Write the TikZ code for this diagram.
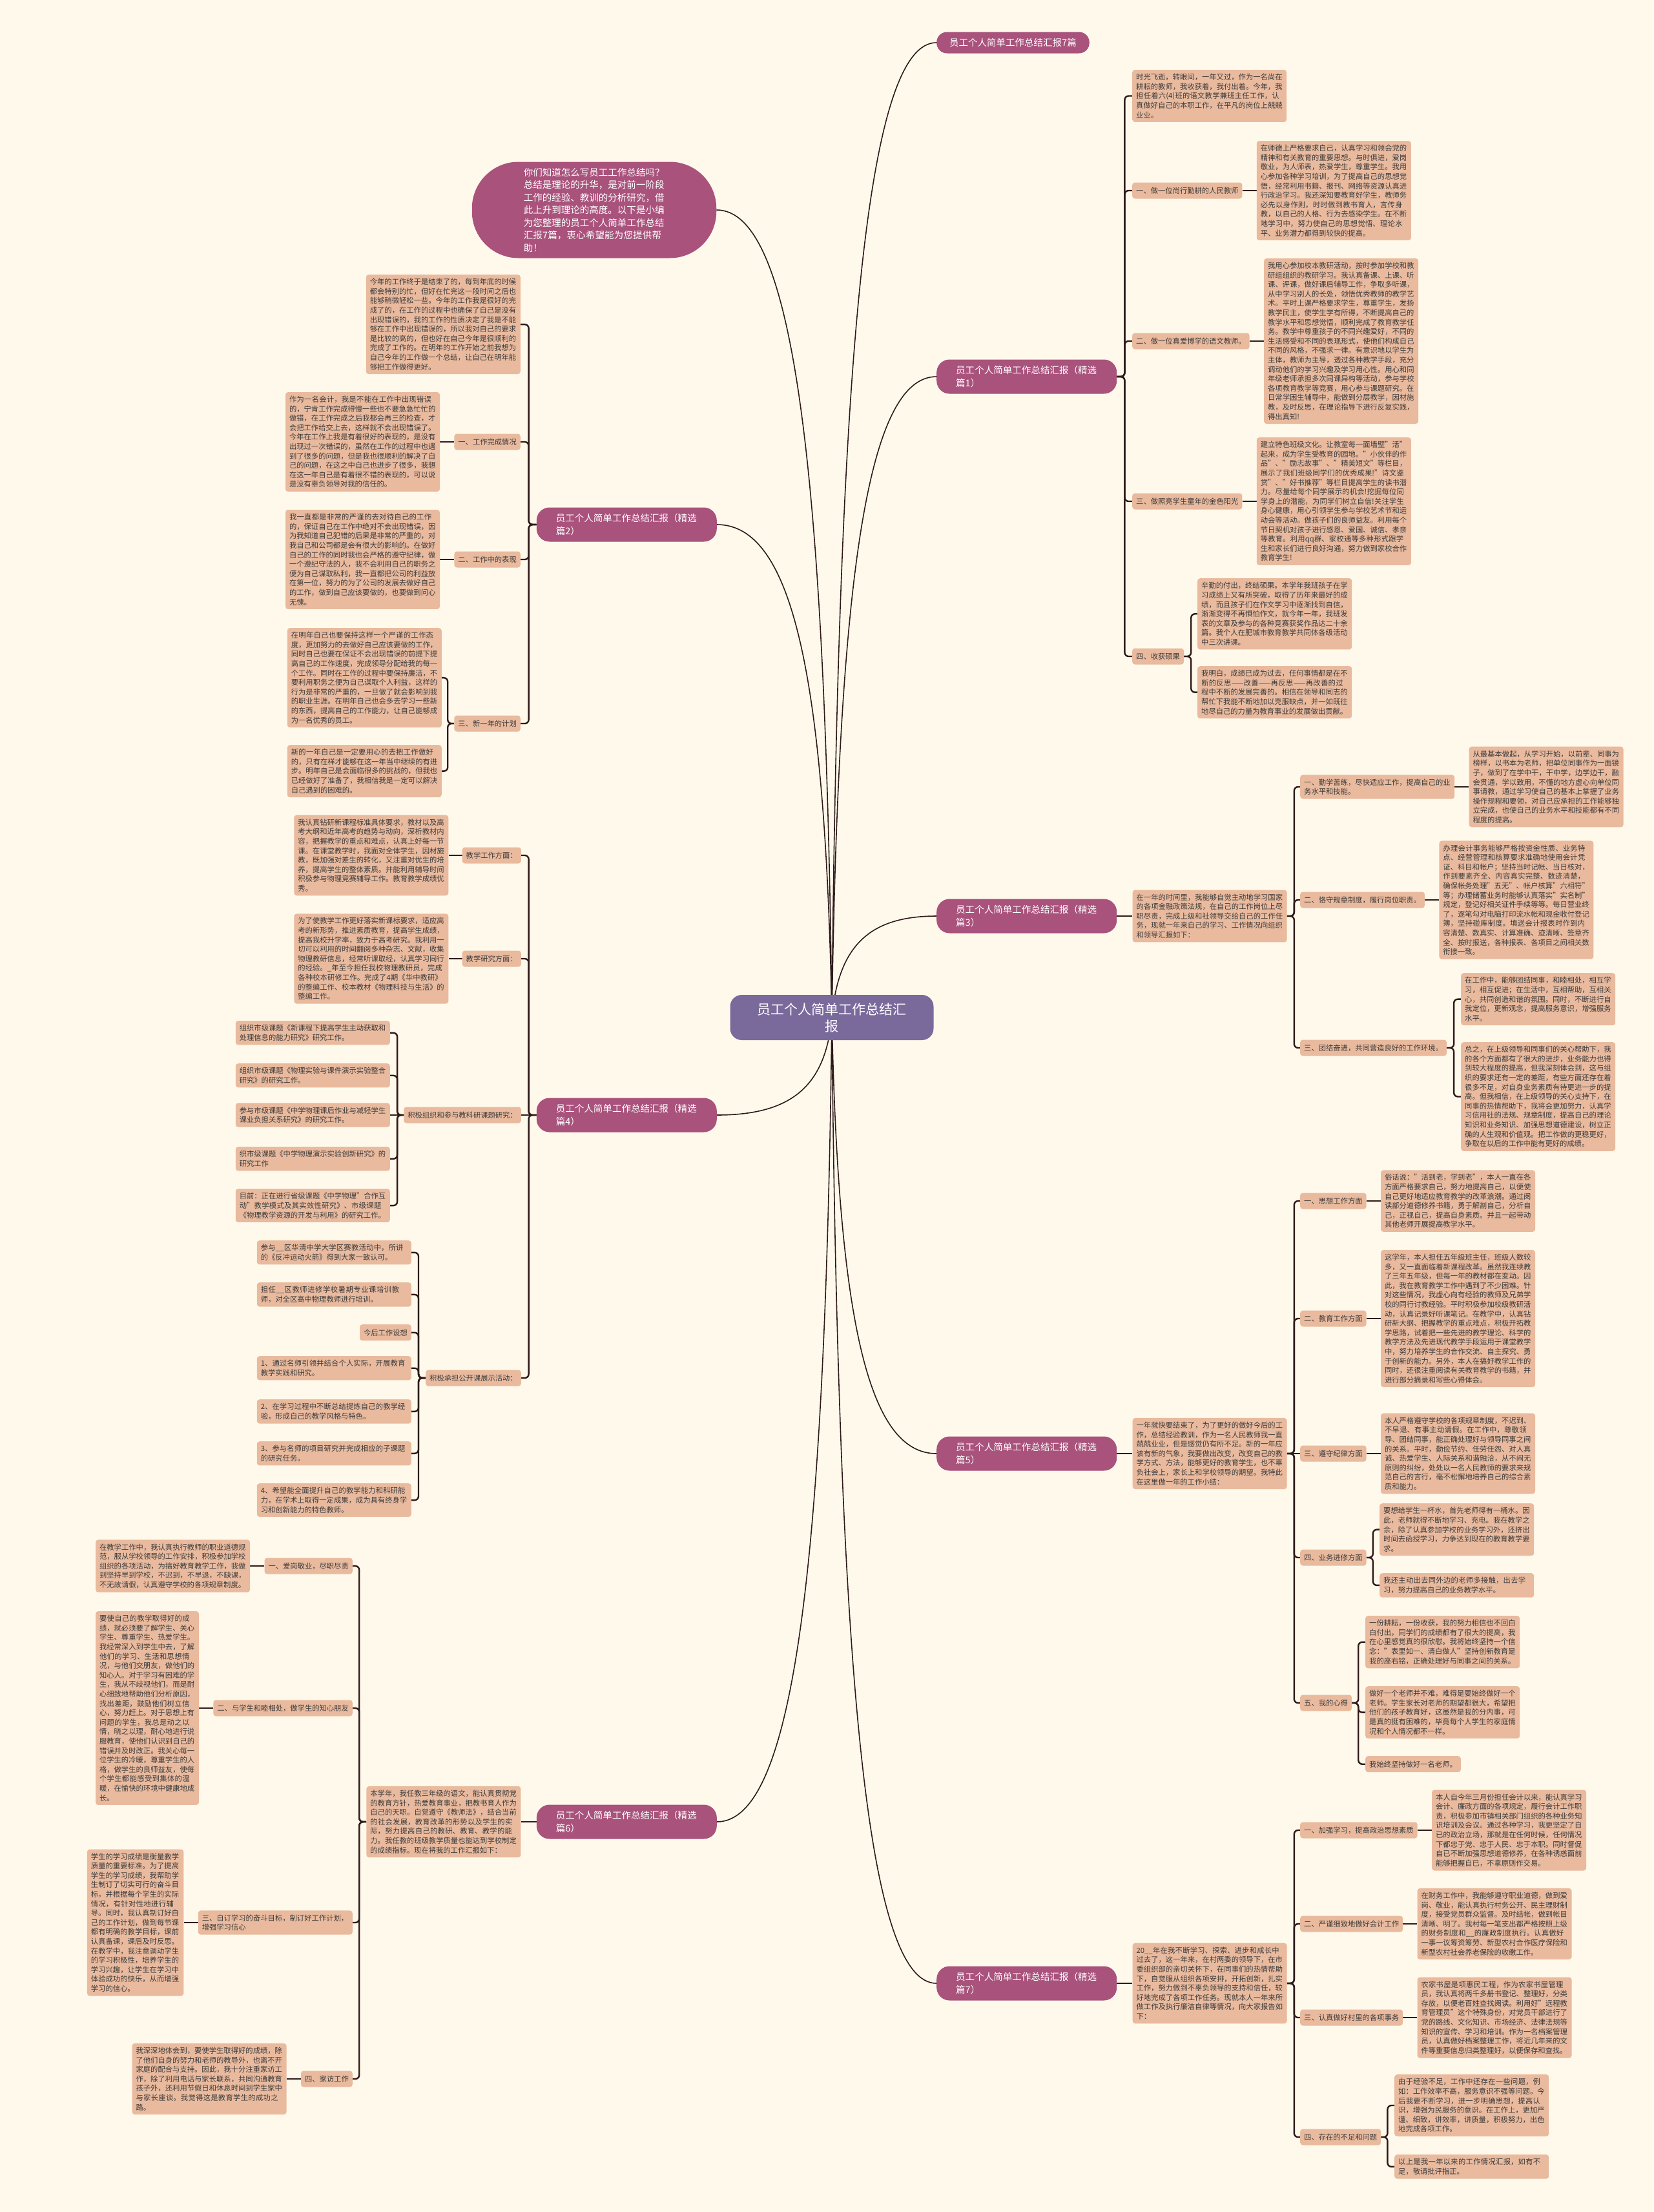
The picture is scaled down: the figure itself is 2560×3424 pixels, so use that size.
\documentclass[tikz,border=0pt]{standalone}
\usepackage{fontspec}
\setmainfont{Noto Sans CJK SC}
\usepackage{xcolor}
\usepackage{tikz}
\usetikzlibrary{positioning}

\XeTeXlinebreaklocale "zh"
\XeTeXlinebreakskip=0pt plus 1pt

\definecolor{paper}{HTML}{FFF9EB}
\definecolor{leaffill}{HTML}{E9BA9E}
\definecolor{leafink}{HTML}{3B3B3B}
\definecolor{topicfill}{HTML}{A9527C}
\definecolor{rootfill}{HTML}{7A6A9C}
\definecolor{wire}{HTML}{2E1A1A}

\newcommand{\leaffont}{\fontsize{11.3}{14.6}\selectfont}
\newcommand{\topicfont}{\fontsize{14.5}{19.5}\selectfont}
\newcommand{\rootfont}{\fontsize{21}{26}\selectfont}

\pgfdeclarelayer{background}
\pgfsetlayers{background,main}

\begin{document}
\begin{tikzpicture}[x=1pt, y=-1pt,
    central/.style={rectangle, rounded corners=18pt, fill=rootfill, text=white, font=\rootfont, align=center, text width=233pt, inner xsep=41pt, minimum height=70pt},
    bubble/.style={rectangle, rounded corners=72pt, fill=topicfill, text=white, font=\topicfont, align=left, text width=218.5pt, inner xsep=80pt, inner ysep=9pt, minimum height=149pt},
    topic/.style={rectangle, rounded corners=20pt, fill=topicfill, text=white, font=\topicfont, align=left, text width=219pt, inner xsep=30pt, minimum height=53pt},
    toptitle/.style={rectangle, rounded corners=16pt, fill=topicfill, text=white, font=\topicfont, inner xsep=20pt, minimum height=33pt},
    subtopic/.style={rectangle, rounded corners=4pt, fill=leaffill, text=leafink, font=\leaffont, inner xsep=6pt, inner ysep=6pt, minimum height=25pt},
    leaf/.style={rectangle, rounded corners=4pt, fill=leaffill, text=leafink, font=\leaffont, align=left, text width=227pt, inner xsep=6pt, inner ysep=6pt},
    link/.style={draw=wire, line width=2.4pt, rounded corners=6pt},
    curve/.style={draw=wire, line width=1.6pt}]

    \useasboundingbox (0,0) rectangle (2560,3424);

    % Centre and main topics
    \node [central] (cn) at (1288,1575) {员工个人简单工作总结汇\\报};
    \node [toptitle, anchor=west] (r0) at (1450,66) {员工个人简单工作总结汇报7篇};
    \node [topic, anchor=west] (r1) at (1450,583) {员工个人简单工作总结汇报（精选篇1）};
    \node [topic, anchor=west] (r3) at (1450,1418) {员工个人简单工作总结汇报（精选篇3）};
    \node [topic, anchor=west] (r5) at (1450,2250) {员工个人简单工作总结汇报（精选篇5）};
    \node [topic, anchor=west] (r7) at (1450,3070) {员工个人简单工作总结汇报（精选篇7）};
    \node [bubble] (intro) at (920,325) {你们知道怎么写员工工作总结吗？总结是理论的升华，是对前一阶段工作的经验、教训的分析研究，借此上升到理论的高度。以下是小编为您整理的员工个人简单工作总结汇报7篇，衷心希望能为您提供帮助！};
    \node [topic, anchor=east] (l2) at (1110,812) {员工个人简单工作总结汇报（精选篇2）};
    \node [topic, anchor=east] (l4) at (1110,1726) {员工个人简单工作总结汇报（精选篇4）};
    \node [topic, anchor=east] (l6) at (1110,2820) {员工个人简单工作总结汇报（精选篇6）};

    % Part 1
    \node [leaf, anchor=north west] (p1lead) at (1753,108) {时光飞逝，转眼间，一年又过，作为一名尚在耕耘的教师，我收获着，我付出着。今年，我担任着六(4)班的语文教学兼班主任工作，认真做好自己的本职工作，在平凡的岗位上兢兢业业。};
    \node [subtopic, anchor=west] (p1a) at (1753,295) {一、做一位尚行勤耕的人民教师};
    \node [leaf, right=22pt of p1a] (p1aleaf) {在师德上严格要求自己，认真学习和领会党的精神和有关教育的重要思想。与时俱进，爱岗敬业，为人师表，热爱学生，尊重学生。我用心参加各种学习培训，为了提高自己的思想觉悟，经常利用书籍、报刊、网络等资源认真进行政治学习。我还深知要教育好学生，教师务必先以身作则，时时做到教书育人，言传身教，以自己的人格、行为去感染学生。在不断地学习中，努力使自己的思想觉悟、理论水平、业务潜力都得到较快的提高。};
    \node [subtopic, anchor=west] (p1b) at (1753,528) {二、做一位真爱博学的语文教师。};
    \node [leaf, right=22pt of p1b] (p1bleaf) {我用心参加校本教研活动，按时参加学校和教研组组织的教研学习。我认真备课、上课、听课、评课，做好课后辅导工作，争取多听课，从中学习别人的长处，领悟优秀教师的教学艺术。平时上课严格要求学生，尊重学生，发扬教学民主，使学生学有所得，不断提高自己的教学水平和思想觉悟，顺利完成了教育教学任务。教学中尊重孩子的不同兴趣爱好，不同的生活感受和不同的表现形式，使他们构成自己不同的风格，不强求一律。有意识地以学生为主体，教师为主导，透过各种教学手段，充分调动他们的学习兴趣及学习用心性。用心和同年级老师承担多次同课异构等活动，参与学校各项教育教学等竞赛，用心参与课题研究。在日常学困生辅导中，能做到分层教学，因材施教，及时反思，在理论指导下进行反复实践，得出真知!};
    \node [subtopic, anchor=west] (p1c) at (1753,776) {三、做照亮学生童年的金色阳光};
    \node [leaf, right=22pt of p1c] (p1cleaf) {建立特色班级文化。让教室每一面墙壁"活"起来，成为学生受教育的园地。"小伙伴的作品"、"励志故事"、"精美短文"等栏目，展示了我们班级同学们的优秀成果!"诗文鉴赏"、"好书推荐"等栏目提高学生的读书潜力。尽量给每个同学展示的机会!挖掘每位同学身上的潜能，为同学们树立自信!关注学生身心健康，用心引领学生参与学校艺术节和运动会等活动。做孩子们的良师益友。利用每个节日契机对孩子进行感恩、爱国、诚信、孝亲等教育。利用qq群、家校通等多种形式跟学生和家长们进行良好沟通，努力做到家校合作教育学生!};
    \node [subtopic, anchor=west] (p1d) at (1753,1016) {四、收获硕果};
    \node [leaf, anchor=north west] (p1d1) at (1854,895) {辛勤的付出，终结硕果。本学年我班孩子在学习成绩上又有所突破，取得了历年来最好的成绩，而且孩子们在作文学习中逐渐找到自信，渐渐变得不再惧怕作文，就今年一年，我班发表的文章及参与的各种竞赛获奖作品达二十余篇。我个人在肥城市教育教学共同体各级活动中三次讲课。};
    \node [leaf, anchor=north west] (p1d2) at (1854,1031) {我明白，成绩已成为过去，任何事情都是在不断的反思——改善——再反思——再改善的过程中不断的发展完善的。相信在领导和同志的帮忙下我能不断地加以克服缺点，并一如既往地尽自己的力量为教育事业的发展做出贡献。};

    % Part 3
    \node [leaf, right=24pt of r3] (p3lead) {在一年的时间里，我能够自觉主动地学习国家的各项金融政策法规，在自己的工作岗位上尽职尽责，完成上级和社领导交给自己的工作任务，现就一年来自己的学习、工作情况向组织和领导汇报如下：};
    \node [subtopic, text width=227pt, align=left, anchor=west] (p3a) at (2013,1218) {一、勤学苦练，尽快适应工作，提高自己的业务水平和技能。};
    \node [leaf, right=22pt of p3a] (p3aleaf) {从最基本做起，从学习开始，以前辈、同事为榜样，以书本为老师，把单位同事作为一面镜子，做到了在学中干，干中学，边学边干，融会贯通，学以致用，不懂的地方虚心向单位同事请教，通过学习使自己的基本上掌握了业务操作规程和要领，对自己应承担的工作能够独立完成，也使自己的业务水平和技能都有不同程度的提高。};
    \node [subtopic, anchor=west] (p3b) at (2013,1393) {二、恪守规章制度，履行岗位职责。};
    \node [leaf, right=22pt of p3b] (p3bleaf) {办理会计事务能够严格按资金性质、业务特点、经营管理和核算要求准确地使用会计凭证、科目和帐户；坚持当时记帐、当日核对，作到要素齐全、内容真实完整、数迹清楚，确保帐务处理"五无"、帐户核算"六相符"等；办理储蓄业务时能够认真落实"实名制"规定，登记好相关证件手续等等。每日营业终了，逐笔勾对电脑打印流水帐和现金收付登记簿，坚持碰库制度。填送会计报表时作到内容清楚、数真实、计算准确、迹清晰、签章齐全、按时报送，各种报表、各项目之间相关数衔接一致。};
    \node [subtopic, anchor=west] (p3c) at (2013,1622) {三、团结奋进，共同营造良好的工作环境。};
    \node [leaf, anchor=north west] (p3c1) at (2262,1506) {在工作中，能够团结同事，和睦相处，相互学习，相互促进；在生活中，互相帮助，互相关心，共同创造和谐的氛围。同时，不断进行自我定位，更新观念，提高服务意识，增强服务水平。};
    \node [leaf, anchor=north west] (p3c2) at (2262,1613) {总之，在上级领导和同事们的关心帮助下，我的各个方面都有了很大的进步，业务能力也得到较大程度的提高，但我深刻体会到，这与组织的要求还有一定的差距，有些方面还存在着很多不足，对自身业务素质有待更进一步的提高。但我相信，在上级领导的关心支持下，在同事的热情帮助下，我将会更加努力，认真学习信用社的法规、规章制度，提高自己的理论知识和业务知识、加强思想道德建设，树立正确的人生观和价值观。把工作做的更稳更好，争取在以后的工作中能有更好的成绩。};

    % Part 5
    \node [leaf, right=24pt of r5] (p5lead) {一年就快要结束了，为了更好的做好今后的工作，总结经验教训，作为一名人民教师我一直兢兢业业，但是感觉仍有所不足。新的一年应该有新的气象，我要做出改变，改变自己的教学方式、方法，能够更好的教育学生，也不辜负社会上，家长上和学校领导的期望。我特此在这里做一年的工作小结：};
    \node [subtopic, anchor=west] (p5a) at (2013,1859) {一、思想工作方面};
    \node [leaf, right=22pt of p5a] (p5aleaf) {俗话说："活到老，学到老"，本人一直在各方面严格要求自己，努力地提高自己，以便使自己更好地适应教育教学的改革浪潮。通过阅读部分道德修养书籍，勇于解剖自己，分析自己，正视自己，提高自身素质。并且一起带动其他老师开展提高教学水平。};
    \node [subtopic, anchor=west] (p5b) at (2013,2041) {二、教育工作方面};
    \node [leaf, right=22pt of p5b] (p5bleaf) {这学年，本人担任五年级班主任，班级人数较多，又一直面临着新课程改革。虽然我连续教了三年五年级，但每一年的教材都在变动。因此，我在教育教学工作中遇到了不少困难。针对这些情况，我虚心向有经验的教师及兄弟学校的同行讨教经验。平时积极参加校级教研活动，认真记录好听课笔记。在教学中，认真钻研新大纲、把握教学的重点难点，积极开拓教学思路，试着把一些先进的教学理论、科学的教学方法及先进现代教学手段运用于课堂教学中，努力培养学生的合作交流、自主探究、勇于创新的能力。另外，本人在搞好教学工作的同时，还很注重阅读有关教育教学的书籍，并进行部分摘录和写些心得体会。};
    \node [subtopic, anchor=west] (p5c) at (2013,2250) {三、遵守纪律方面};
    \node [leaf, right=22pt of p5c] (p5cleaf) {本人严格遵守学校的各项规章制度，不迟到、不早退、有事主动请假。在工作中，尊敬领导、团结同事，能正确处理好与领导同事之间的关系。平时，勤俭节约、任劳任怨、对人真诚、热爱学生、人际关系和谐融洽，从不闹无原则的纠纷，处处以一名人民教师的要求来规范自己的言行，毫不松懈地培养自己的综合素质和能力。};
    \node [subtopic, anchor=west] (p5d) at (2013,2411) {四、业务进修方面};
    \node [leaf, anchor=north west] (p5d1) at (2136,2327) {要想给学生一杯水，首先老师得有一桶水。因此，老师就得不断地学习、充电。我在教学之余，除了认真参加学校的业务学习外，还挤出时间去函授学习，力争达到现在的教育教学要求。};
    \node [leaf, anchor=north west] (p5d2) at (2136,2435) {我还主动出去同外边的老师多接触，出去学习，努力提高自己的业务教学水平。};
    \node [subtopic, anchor=west] (p5e) at (2013,2636) {五、我的心得};
    \node [leaf, anchor=north west] (p5e1) at (2114,2501) {一份耕耘，一份收获，我的努力相信也不回白白付出，同学们的成绩都有了很大的提高，我在心里感觉真的很欣慰。我将始终坚持一个信念："表里如一、清白做人"坚持创新教育是我的座右铭，正确处理好与同事之间的关系。};
    \node [leaf, anchor=north west] (p5e2) at (2114,2610) {做好一个老师并不难，难得是要始终做好一个老师。学生家长对老师的期望都很大，希望把他们的孩子教育好，这虽然是我的分内事，可是真的挺有困难的，毕竟每个人学生的家庭情况和个人情况都不一样。};
    \node [subtopic, anchor=north west] (p5e3) at (2114,2718) {我始终坚持做好一名老师。};

    % Part 7
    \node [leaf, right=24pt of r7] (p7lead) {20\_\_年在我不断学习、探索、进步和成长中过去了，这一年来，在村两委的领导下，在市委组织部的亲切关怀下，在同事们的热情帮助下，自觉服从组织各项安排，开拓创新，扎实工作，努力做到不辜负领导的支持和信任，较好地完成了各项工作任务。现就本人一年来所做工作及执行廉洁自律等情况，向大家报告如下：};
    \node [subtopic, anchor=west] (p7a) at (2013,2833) {一、加强学习，提高政治思想素质};
    \node [leaf, right=22pt of p7a] (p7aleaf) {本人自今年三月份担任会计以来，能认真学习会计、廉政方面的各项规定，履行会计工作职责，积极参加市镇相关部门组织的各种业务知识培训及会议。通过各种学习，我更坚定了自已的政治立场，那就是在任何时候，任何情况下都忠于党、忠于人民、忠于本职。同时督促自已不断加强思想道德修养，在各种诱惑面前能够把握自已，不拿原则作交易。};
    \node [subtopic, anchor=west] (p7b) at (2013,2978) {二、严谨细致地做好会计工作};
    \node [leaf, right=22pt of p7b] (p7bleaf) {在财务工作中，我能够遵守职业道德，做到爱岗、敬业，能认真执行村务公开、民主理财制度，接受党员群众监督。及时结帐，做到帐目清晰、明了。我村每一笔支出都严格按照上级的财务制度和\_\_的廉政制度执行。认真做好一事一议筹资筹劳、新型农村合作医疗保险和新型农村社会养老保险的收缴工作。};
    \node [subtopic, anchor=west] (p7c) at (2013,3123) {三、认真做好村里的各项事务};
    \node [leaf, right=22pt of p7c] (p7cleaf) {农家书屋是项惠民工程，作为农家书屋管理员，我认真将两千多册书登记、整理好，分类存放，以便老百姓查找阅读。利用好"远程教育管理员"这个特殊身份，对党员干部进行了党的路线、文化知识、市场经济、法律法规等知识的宣传、学习和培训。作为一名档案管理员，认真做好档案整理工作，将近几年来的文件等重要信息归类整理好，以便保存和查找。};
    \node [subtopic, anchor=west] (p7d) at (2013,3308) {四、存在的不足和问题};
    \node [leaf, anchor=north west] (p7d1) at (2159,3211) {由于经验不足，工作中还存在一些问题，例如：工作效率不高，服务意识不强等问题。今后我要不断学习，进一步明确思想，提高认识，增强为民服务的意识。在工作上，更加严谨、细致，讲效率，讲质量，积极努力，出色地完成各项工作。};
    \node [leaf, anchor=north west] (p7d2) at (2159,3335) {以上是我一年以来的工作情况汇报，如有不足，敬请批评指正。};

    % Part 2
    \node [leaf, anchor=north east] (p2lead) at (806,425) {今年的工作终于是结束了的，每到年底的时候都会特别的忙，但好在忙完这一段时间之后也能够稍微轻松一些。今年的工作我是很好的完成了的，在工作的过程中也确保了自己是没有出现错误的，我的工作的性质决定了我是不能够在工作中出现错误的，所以我对自己的要求是比较的高的，但也好在自己今年是很顺利的完成了工作的。在明年的工作开始之前我想为自己今年的工作做一个总结，让自己在明年能够把工作做得更好。};
    \node [subtopic, anchor=east] (p2a) at (806,684) {一、工作完成情况};
    \node [leaf, left=22pt of p2a] (p2aleaf) {作为一名会计，我是不能在工作中出现错误的，宁肯工作完成得慢一些也不要急急忙忙的做错，在工作完成之后我都会再三的检查，才会把工作给交上去，这样就不会出现错误了。今年在工作上我是有着很好的表现的，是没有出现过一次错误的，虽然在工作的过程中也遇到了很多的问题，但是我也很顺利的解决了自己的问题，在这之中自己也进步了很多，我想在这一年自己是有着很不错的表现的，可以说是没有辜负领导对我的信任的。};
    \node [subtopic, anchor=east] (p2b) at (806,866) {二、工作中的表现};
    \node [leaf, left=22pt of p2b] (p2bleaf) {我一直都是非常的严谨的去对待自己的工作的，保证自己在工作中绝对不会出现错误，因为我知道自己犯错的后果是非常的严重的，对我自己和公司都是会有很大的影响的。在做好自己的工作的同时我也会严格的遵守纪律，做一个遵纪守法的人，我不会利用自己的职务之便为自己谋取私利，我一直都把公司的利益放在第一位，努力的为了公司的发展去做好自己的工作，做到自己应该要做的，也要做到问心无愧。};
    \node [subtopic, anchor=east] (p2c) at (806,1120) {三、新一年的计划};
    \node [leaf, anchor=north east] (p2c1) at (684,972) {在明年自己也要保持这样一个严谨的工作态度，更加努力的去做好自己应该要做的工作，同时自己也要在保证不会出现错误的前提下提高自己的工作速度，完成领导分配给我的每一个工作。同时在工作的过程中要保持廉洁，不要利用职务之便为自己谋取个人利益，这样的行为是非常的严重的，一旦做了就会影响到我的职业生涯。在明年自己也会多去学习一些新的东西，提高自己的工作能力，让自己能够成为一名优秀的员工。};
    \node [leaf, anchor=north east] (p2c2) at (684,1153) {新的一年自己是一定要用心的去把工作做好的，只有在样才能够在这一年当中继续的有进步。明年自己是会面临很多的挑战的，但我也已经做好了准备了，我相信我是一定可以解决自己遇到的困难的。};

    % Part 4
    \node [subtopic, anchor=east] (p4a) at (807,1324) {教学工作方面：};
    \node [leaf, left=21pt of p4a] (p4aleaf) {我认真钻研新课程标准具体要求，教材以及高考大纲和近年高考的趋势与动向，深析教材内容，把握教学的重点和难点，认真上好每一节课。在课堂教学时，我面对全体学生，因材施教，既加强对差生的转化，又注重对优生的培养，提高学生的整体素质。并能利用辅导时间积极参与物理竞赛辅导工作。教育教学成绩优秀。};
    \node [subtopic, anchor=east] (p4b) at (807,1484) {教学研究方面：};
    \node [leaf, left=21pt of p4b] (p4bleaf) {为了使教学工作更好落实新课标要求，适应高考的新形势，推进素质教育，提高学生成绩，提高我校升学率，致力于高考研究。我利用一切可以利用的时间翻阅多种杂志、文献，收集物理教研信息，经常听课取经，认真学习同行的经验。\_年至今担任我校物理教研员，完成各种校本研修工作。完成了4期《华中教研》的整编工作、校本教材《物理科技与生活》的整编工作。};
    \node [subtopic, anchor=east] (p4c) at (807,1726) {积极组织和参与教科研课题研究：};
    \node [leaf, anchor=north east] (p4c1) at (604,1580) {组织市级课题《新课程下提高学生主动获取和处理信息的能力研究》研究工作。};
    \node [leaf, anchor=north east] (p4c2) at (604,1646) {组织市级课题《物理实验与课件演示实验整合研究》的研究工作。};
    \node [leaf, anchor=east] (p4c3) at (604,1726) {参与市级课题《中学物理课后作业与减轻学生课业负担关系研究》的研究工作。};
    \node [leaf, anchor=north east] (p4c4) at (604,1775) {织市级课题《中学物理演示实验创新研究》的研究工作};
    \node [leaf, anchor=north east] (p4c5) at (604,1840) {目前：正在进行省级课题《中学物理"合作互动"教学模式及其实效性研究》、市级课题《物理教学资源的开发与利用》的研究工作。};
    \node [subtopic, anchor=east] (p4d) at (807,2133) {积极承担公开课展示活动：};
    \node [leaf, anchor=north east] (p4d1) at (637,1920) {参与\_\_区华清中学大学区赛教活动中，所讲的《反冲运动火箭》得到大家一致认可。};
    \node [leaf, anchor=north east] (p4d2) at (637,1985) {担任\_\_区教师进修学校暑期专业课培训教师，对全区高中物理教师进行培训。};
    \node [subtopic, anchor=north east] (p4d3) at (637,2050) {今后工作设想};
    \node [leaf, anchor=north east] (p4d4) at (637,2099) {1、通过名师引领并结合个人实际，开展教育教学实践和研究。};
    \node [leaf, anchor=north east] (p4d5) at (637,2166) {2、在学习过程中不断总结提炼自己的教学经验，形成自己的教学风格与特色。};
    \node [leaf, anchor=north east] (p4d6) at (637,2231) {3、参与名师的项目研究并完成相应的子课题的研究任务。};
    \node [leaf, anchor=north east] (p4d7) at (637,2296) {4、希望能全面提升自己的教学能力和科研能力，在学术上取得一定成果，成为具有终身学习和创新能力的特色教师。};

    % Part 6
    \node [leaf, left=24pt of l6] (p6lead) {本学年，我任教三年级的语文，能认真贯彻党的教育方针，热爱教育事业，把教书育人作为自己的天职。自觉遵守《教师法》，结合当前的社会发展，教育改革的形势以及学生的实际，努力提高自己的教研、教育、教学的能力。我任教的班级教学质量也能达到学校制定的成绩指标。现在将我的工作汇报如下：};
    \node [subtopic, anchor=east] (p6a) at (546,2424) {一、爱岗敬业，尽职尽责};
    \node [leaf, left=22pt of p6a] (p6aleaf) {在教学工作中，我认真执行教师的职业道德规范，服从学校领导的工作安排，积极参加学校组织的各项活动，为搞好教育教学工作，我做到坚持早到学校，不迟到，不早退，不缺课，不无故请假，认真遵守学校的各项规章制度。};
    \node [subtopic, anchor=east] (p6b) at (546,2644) {二、与学生和睦相处，做学生的知心朋友};
    \node [leaf, text width=148pt, left=22pt of p6b] (p6bleaf) {要使自己的教学取得好的成绩，就必须要了解学生、关心学生、尊重学生、热爱学生。我经常深入到学生中去，了解他们的学习、生活和思想情况，与他们交朋友，做他们的知心人。对于学习有困难的学生，我从不歧视他们，而是耐心细致地帮助他们分析原因，找出差距，鼓励他们树立信心，努力赶上。对于思想上有问题的学生，我总是动之以情，晓之以理，耐心地进行说服教育，使他们认识到自己的错误并及时改正。我关心每一位学生的冷暖，尊重学生的人格，做学生的良师益友，使每个学生都能感受到集体的温暖，在愉快的环境中健康地成长。};
    \node [subtopic, text width=227pt, align=left, anchor=east] (p6c) at (546,2976) {三、自订学习的奋斗目标，制订好工作计划，增强学习信心};
    \node [leaf, text width=137.5pt, left=22pt of p6c] (p6cleaf) {学生的学习成绩是衡量教学质量的重要标准。为了提高学生的学习成绩，我帮助学生制订了切实可行的奋斗目标，并根据每个学生的实际情况，有针对性地进行辅导。同时，我认真制订好自己的工作计划，做到每节课都有明确的教学目标，课前认真备课，课后及时反思。在教学中，我注意调动学生的学习积极性，培养学生的学习兴趣，让学生在学习中体验成功的快乐，从而增强学习的信心。};
    \node [subtopic, anchor=east] (p6d) at (546,3218) {四、家访工作};
    \node [leaf, left=22pt of p6d] (p6dleaf) {我深深地体会到，要使学生取得好的成绩，除了他们自身的努力和老师的教导外，也离不开家庭的配合与支持。因此，我十分注重家访工作，除了利用电话与家长联系，共同沟通教育孩子外，还利用节假日和休息时间到学生家中与家长座谈。我觉得这是教育学生的成功之路。};

    \begin{pgfonlayer}{background}
    \fill [paper] (0,0) rectangle (2560,3424);

    % Curves from the centre
    \draw [curve] (cn.center) .. controls +(10,-1056) and +(-105,0) .. (r0.west);
    \draw [curve] (cn.center) .. controls +(10,-694) and +(-105,0) .. (r1.west);
    \draw [curve] (cn.center) .. controls +(10,-110) and +(-105,0) .. (r3.west);
    \draw [curve] (cn.center) .. controls +(10,472) and +(-105,0) .. (r5.west);
    \draw [curve] (cn.center) .. controls +(10,1046) and +(-105,0) .. (r7.west);
    \draw [curve] (cn.center) .. controls +(-10,-875) and +(116,0) .. (intro.east);
    \draw [curve] (cn.center) .. controls +(-10,-534) and +(116,0) .. (l2.east);
    \draw [curve] (cn.center) .. controls +(-10,106) and +(116,0) .. (l4.east);
    \draw [curve] (cn.center) .. controls +(-10,871) and +(116,0) .. (l6.east);

    % Links, part 1
    \draw [link] (r1.east) -- ++(12,0) |- (p1lead.west);
    \draw [link] (r1.east) -- ++(12,0) |- (p1a.west);
    \draw [link] (r1.east) -- ++(12,0) |- (p1b.west);
    \draw [link] (r1.east) -- ++(12,0) |- (p1c.west);
    \draw [link] (r1.east) -- ++(12,0) |- (p1d.west);
    \draw [link] (p1a.east) -- (p1aleaf.west);
    \draw [link] (p1b.east) -- (p1bleaf.west);
    \draw [link] (p1c.east) -- (p1cleaf.west);
    \draw [link] (p1d.east) -- ++(11,0) |- (p1d1.west);
    \draw [link] (p1d.east) -- ++(11,0) |- (p1d2.west);

    % Links, part 3
    \draw [link] (r3.east) -- (p3lead.west);
    \draw [link] (p3lead.east) -- ++(11,0) |- (p3a.west);
    \draw [link] (p3lead.east) -- ++(11,0) |- (p3b.west);
    \draw [link] (p3lead.east) -- ++(11,0) |- (p3c.west);
    \draw [link] (p3a.east) -- (p3aleaf.west);
    \draw [link] (p3b.east) -- (p3bleaf.west);
    \draw [link] (p3c.east) -- ++(11,0) |- (p3c1.west);
    \draw [link] (p3c.east) -- ++(11,0) |- (p3c2.west);

    % Links, part 5
    \draw [link] (r5.east) -- (p5lead.west);
    \draw [link] (p5lead.east) -- ++(11,0) |- (p5a.west);
    \draw [link] (p5lead.east) -- ++(11,0) |- (p5b.west);
    \draw [link] (p5lead.east) -- (p5c.west);
    \draw [link] (p5lead.east) -- ++(11,0) |- (p5d.west);
    \draw [link] (p5lead.east) -- ++(11,0) |- (p5e.west);
    \draw [link] (p5a.east) -- (p5aleaf.west);
    \draw [link] (p5b.east) -- (p5bleaf.west);
    \draw [link] (p5c.east) -- (p5cleaf.west);
    \draw [link] (p5d.east) -- ++(10,0) |- (p5d1.west);
    \draw [link] (p5d.east) -- ++(10,0) |- (p5d2.west);
    \draw [link] (p5e.east) -- ++(10,0) |- (p5e1.west);
    \draw [link] (p5e.east) -- ++(10,0) |- (p5e2.west);
    \draw [link] (p5e.east) -- ++(10,0) |- (p5e3.west);

    % Links, part 7
    \draw [link] (r7.east) -- (p7lead.west);
    \draw [link] (p7lead.east) -- ++(11,0) |- (p7a.west);
    \draw [link] (p7lead.east) -- ++(11,0) |- (p7b.west);
    \draw [link] (p7lead.east) -- ++(11,0) |- (p7c.west);
    \draw [link] (p7lead.east) -- ++(11,0) |- (p7d.west);
    \draw [link] (p7a.east) -- (p7aleaf.west);
    \draw [link] (p7b.east) -- (p7bleaf.west);
    \draw [link] (p7c.east) -- (p7cleaf.west);
    \draw [link] (p7d.east) -- ++(10,0) |- (p7d1.west);
    \draw [link] (p7d.east) -- ++(10,0) |- (p7d2.west);

    % Links, part 2
    \draw [link] (l2.west) -- ++(-12,0) |- (p2lead.east);
    \draw [link] (l2.west) -- ++(-12,0) |- (p2a.east);
    \draw [link] (l2.west) -- ++(-12,0) |- (p2b.east);
    \draw [link] (l2.west) -- ++(-12,0) |- (p2c.east);
    \draw [link] (p2a.west) -- (p2aleaf.east);
    \draw [link] (p2b.west) -- (p2bleaf.east);
    \draw [link] (p2c.west) -- ++(-10,0) |- (p2c1.east);
    \draw [link] (p2c.west) -- ++(-10,0) |- (p2c2.east);

    % Links, part 4
    \draw [link] (l4.west) -- ++(-12,0) |- (p4a.east);
    \draw [link] (l4.west) -- ++(-12,0) |- (p4b.east);
    \draw [link] (l4.west) -- (p4c.east);
    \draw [link] (l4.west) -- ++(-12,0) |- (p4d.east);
    \draw [link] (p4a.west) -- (p4aleaf.east);
    \draw [link] (p4b.west) -- (p4bleaf.east);
    \draw [link] (p4c.west) -- ++(-10,0) |- (p4c1.east);
    \draw [link] (p4c.west) -- ++(-10,0) |- (p4c2.east);
    \draw [link] (p4c.west) -- (p4c3.east);
    \draw [link] (p4c.west) -- ++(-10,0) |- (p4c4.east);
    \draw [link] (p4c.west) -- ++(-10,0) |- (p4c5.east);
    \draw [link] (p4d.west) -- ++(-11,0) |- (p4d1.east);
    \draw [link] (p4d.west) -- ++(-11,0) |- (p4d2.east);
    \draw [link] (p4d.west) -- ++(-11,0) |- (p4d3.east);
    \draw [link] (p4d.west) -- ++(-11,0) |- (p4d4.east);
    \draw [link] (p4d.west) -- ++(-11,0) |- (p4d5.east);
    \draw [link] (p4d.west) -- ++(-11,0) |- (p4d6.east);
    \draw [link] (p4d.west) -- ++(-11,0) |- (p4d7.east);

    % Links, part 6
    \draw [link] (l6.west) -- (p6lead.east);
    \draw [link] (p6lead.west) -- ++(-11,0) |- (p6a.east);
    \draw [link] (p6lead.west) -- ++(-11,0) |- (p6b.east);
    \draw [link] (p6lead.west) -- ++(-11,0) |- (p6c.east);
    \draw [link] (p6lead.west) -- ++(-11,0) |- (p6d.east);
    \draw [link] (p6a.west) -- (p6aleaf.east);
    \draw [link] (p6b.west) -- (p6bleaf.east);
    \draw [link] (p6c.west) -- (p6cleaf.east);
    \draw [link] (p6d.west) -- (p6dleaf.east);
    \end{pgfonlayer}

\end{tikzpicture}
\end{document}
